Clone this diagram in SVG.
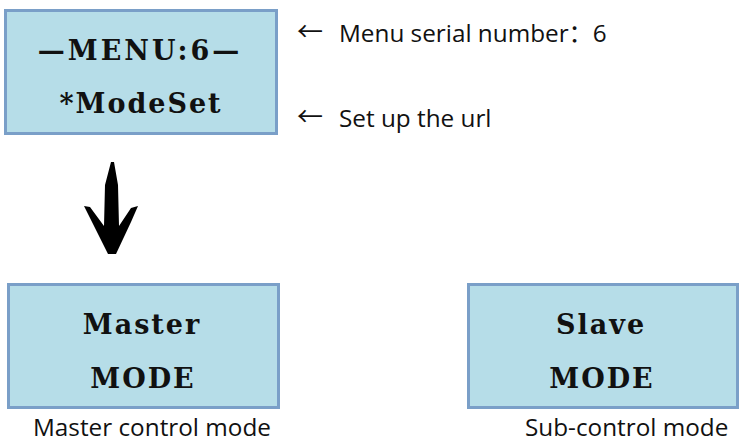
<svg xmlns="http://www.w3.org/2000/svg" width="740" height="442" viewBox="0 0 740 442">
<style>
.box{fill:#b6dde8;stroke:#7a9fc8;stroke-width:3}
.lcd{font-family:"DejaVu Serif","Liberation Serif",serif;font-weight:bold;font-size:27px;letter-spacing:2px;fill:#111;text-anchor:middle}
.lbl{font-family:"Open Sans","Noto Sans","Noto Sans CJK SC",sans-serif;font-size:24.3px;fill:#111}
.arr{font-family:"Noto Sans CJK SC",sans-serif;font-size:26px;fill:#111}
</style>
<rect width="740" height="442" fill="#fff"/>
<g id="menu">
<rect class="box" x="5.5" y="10.5" width="271" height="123"/>
<text class="lcd" x="140" y="60" style="letter-spacing:3px">—MENU:6—</text>
<text class="lcd" x="141" y="113">*ModeSet</text>
</g>
<g id="note1"><text class="arr" x="297" y="41">←</text><text class="lbl" x="339" y="42">Menu serial number：6</text></g>
<g id="note2"><text class="arr" x="297" y="126">←</text><text class="lbl" x="339" y="127">Set up the url</text></g>
<g id="connectors">
<path d="M111,162 L114,162 L118,185 L119,226 L131,208 L138,206 L131,222 L116,254 L108,254 L93,224 L84,206 L90,207 L104,226 L105,185 Z" fill="#000"/>
</g>
<g id="master">
<rect class="box" x="8.5" y="284.5" width="270" height="123"/>
<text class="lcd" x="142" y="334">Master</text>
<text class="lcd" x="143" y="388">MODE</text>
<text class="lbl" x="33" y="436">Master control mode</text>
</g>
<g id="slave">
<rect class="box" x="468.5" y="284.5" width="269" height="123"/>
<text class="lcd" x="601" y="334">Slave</text>
<text class="lcd" x="602" y="388">MODE</text>
<text class="lbl" x="525" y="436">Sub-control mode</text>
</g>
</svg>
